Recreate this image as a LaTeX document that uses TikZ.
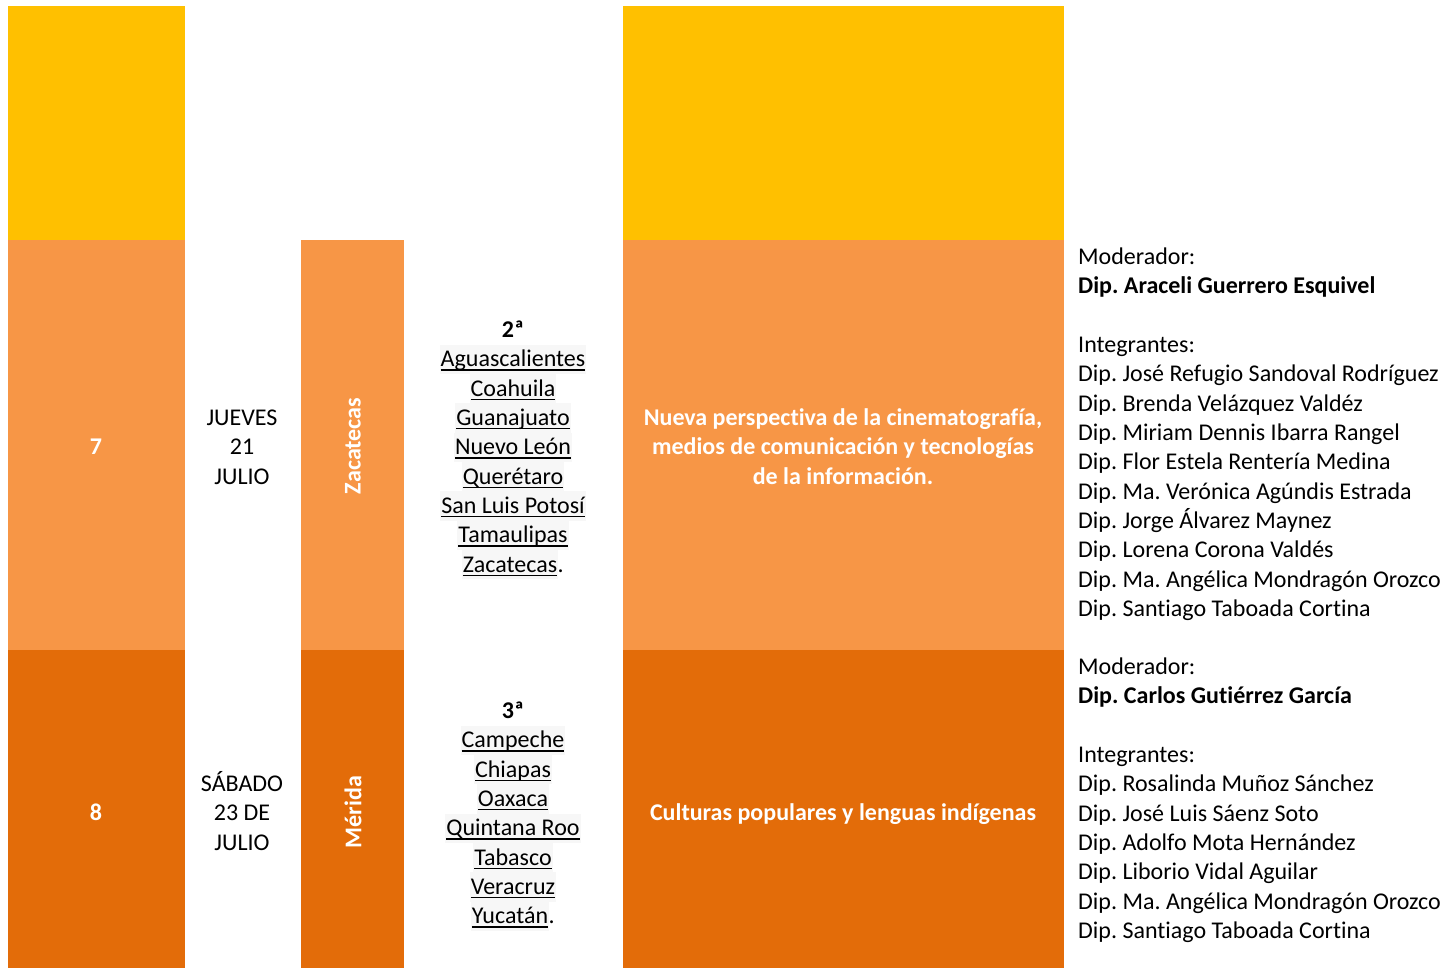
\documentclass[tikz,border=0pt]{standalone}
\usepackage{fontspec}
\setmainfont{Carlito}[Ligatures=NoCommon]
\frenchspacing
\definecolor{yel}{HTML}{FFC000}
\definecolor{lor}{HTML}{F79646}
\definecolor{dor}{HTML}{E36C09}
\definecolor{hlg}{HTML}{F7F7F7}
\newlength\ulwid
\newcommand\ulw[1]{\settowidth\ulwid{#1}\rlap{\rule[-3.8pt]{\ulwid}{1.3pt}}#1}
\begin{document}
\begin{tikzpicture}[x=1pt,y=-1pt,
  every node/.style={font=\fontsize{24}{29.3}\selectfont, inner sep=0pt},
  txt/.style={anchor=base},
  wb/.style={anchor=base, text=white, font=\fontsize{24}{29.3}\selectfont\bfseries},
  st/.style={anchor=base, fill=hlg, inner xsep=1pt, text height=22pt, text depth=7.3pt},
  lft/.style={anchor=base west}]
\useasboundingbox (0,0) rectangle (1448,968);
% column 1
\fill[yel] (8,6) rectangle (185,240);
\fill[lor] (8,240) rectangle (185,650);
\fill[dor] (8,650) rectangle (185,968);
% column 3
\fill[lor] (301,240) rectangle (404,650);
\fill[dor] (301,650) rectangle (404,968);
% column 5
\fill[yel] (623,6) rectangle (1064,240);
\fill[lor] (623,240) rectangle (1064,650);
\fill[dor] (623,650) rectangle (1064,968);

% numbers
\node[wb] (n7) at (96,454.5) {7};
\node[wb] (n8) at (96,820.5) {8};
% dates
\node[txt] (d1a) at (242,425.5) {JUEVES};
\node[txt] (d1b) at (242,454.8) {21};
\node[txt] (d1c) at (242,484.2) {JULIO};
\node[txt] (d2a) at (242,791.5) {SÁBADO};
\node[txt] (d2b) at (242,820.8) {23 DE};
\node[txt] (d2c) at (242,850.2) {JULIO};
% venues
\node[rotate=90, text=white, font=\fontsize{24}{29.3}\selectfont\bfseries] (v1) at (353,446) {Zacatecas};
\node[rotate=90, text=white, font=\fontsize{24}{29.3}\selectfont\bfseries] (v2) at (353,812) {Mérida};
% circunscripciones
\node[txt, font=\fontsize{24}{29.3}\selectfont\bfseries] (c2) at (513,337.5) {2ª};
\foreach \s [count=\i] in {Aguascalientes,Coahuila,Guanajuato,Nuevo León,Querétaro,San Luis Potosí,Tamaulipas}
  \node[st] (sa\i) at (513,{337.5+29.33*\i}) {\ulw{\s}};
\node[st] (sa8) at (510,{337.5+29.33*8}) {\ulw{Zacatecas}};
\node[anchor=base west] (pa) at ([xshift=-1pt]sa8.base east) {.};
\node[txt, font=\fontsize{24}{29.3}\selectfont\bfseries] (c3) at (513,718.5) {3ª};
\foreach \s [count=\i] in {Campeche,Chiapas,Oaxaca,Quintana Roo,Tabasco,Veracruz}
  \node[st] (sb\i) at (513,{718.5+29.33*\i}) {\ulw{\s}};
\node[st] (sb7) at (510,{718.5+29.33*7}) {\ulw{Yucatán}};
\node[anchor=base west] (pb) at ([xshift=-1pt]sb7.base east) {.};
% topics
\node[wb] (t1a) at (843,425.5) {Nueva perspectiva de la cinematografía,};
\node[wb] (t1b) at (843,454.8) {medios de comunicación y tecnologías};
\node[wb] (t1c) at (843,484.2) {de la información.};
\node[wb] (t2) at (843,820.5) {Culturas populares y lenguas indígenas};
% members block 1
\node[lft] (m1) at (1078,264.5) {Moderador:};
\node[lft, font=\fontsize{24}{29.3}\selectfont\bfseries] (m1b) at (1078,293.8) {Dip. Araceli Guerrero Esquivel};
\node[lft] (i1) at (1078,352.5) {Integrantes:};
\foreach \s [count=\i] in {Dip. José Refugio Sandoval Rodríguez,Dip. Brenda Velázquez Valdéz,Dip. Miriam Dennis Ibarra Rangel,Dip. Flor Estela Rentería Medina,Dip. Ma. Verónica Agúndis Estrada,Dip. Jorge Álvarez Maynez,Dip. Lorena Corona Valdés,Dip. Ma. Angélica Mondragón Orozco,Dip. Santiago Taboada Cortina}
  \node[lft] (pa\i) at (1078,{352.5+29.33*\i}) {\s};
% members block 2
\node[lft] (m2) at (1078,674.5) {Moderador:};
\node[lft, font=\fontsize{24}{29.3}\selectfont\bfseries] (m2b) at (1078,703.8) {Dip. Carlos Gutiérrez García};
\node[lft] (i2) at (1078,762.5) {Integrantes:};
\foreach \s [count=\i] in {Dip. Rosalinda Muñoz Sánchez,Dip. José Luis Sáenz Soto,Dip. Adolfo Mota Hernández,Dip. Liborio Vidal Aguilar,Dip. Ma. Angélica Mondragón Orozco,Dip. Santiago Taboada Cortina}
  \node[lft] (pb\i) at (1078,{762.5+29.33*\i}) {\s};
\end{tikzpicture}
\end{document}
